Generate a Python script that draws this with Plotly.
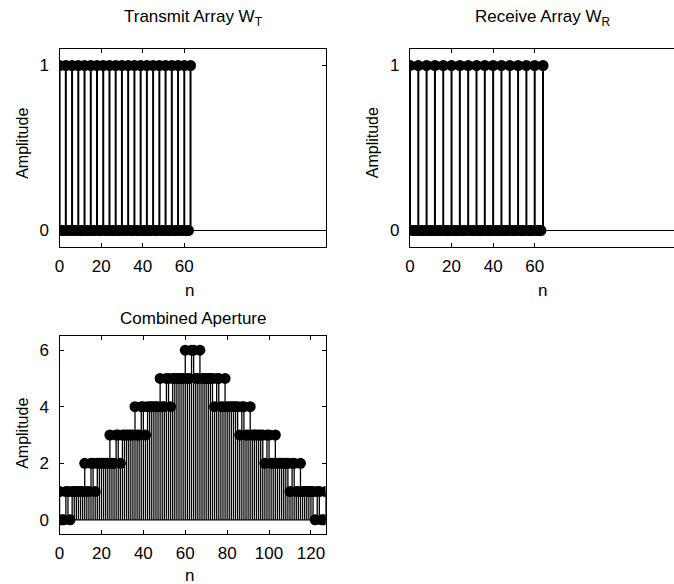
import plotly.graph_objects as go

# Element indices and weights of the two sparse arrays
n_tx = list(range(64))
w_tx = [
    1, 0, 0, 1, 0, 0, 1, 0, 0, 1, 0, 0,
    1, 0, 0, 1, 0, 0, 1, 0, 0, 1, 0, 0,
    1, 0, 0, 1, 0, 0, 1, 0, 0, 1, 0, 0,
    1, 0, 0, 1, 0, 0, 1, 0, 0, 1, 0, 0,
    1, 0, 0, 1, 0, 0, 1, 0, 0, 1, 0, 0,
    1, 0, 0, 1,
]

n_rx = list(range(65))
w_rx = [
    1, 0, 0, 0, 1, 0, 0, 0, 1, 0, 0, 0,
    1, 0, 0, 0, 1, 0, 0, 0, 1, 0, 0, 0,
    1, 0, 0, 0, 1, 0, 0, 0, 1, 0, 0, 0,
    1, 0, 0, 0, 1, 0, 0, 0, 1, 0, 0, 0,
    1, 0, 0, 0, 1, 0, 0, 0, 1, 0, 0, 0,
    1, 0, 0, 0, 1,
]

# Combined (effective) aperture
n_comb = list(range(128))
w_comb = [
    1, 0, 0, 1, 1, 0, 1, 1, 1, 1, 1, 1,
    2, 1, 1, 2, 2, 1, 2, 2, 2, 2, 2, 2,
    3, 2, 2, 3, 3, 2, 3, 3, 3, 3, 3, 3,
    4, 3, 3, 4, 4, 3, 4, 4, 4, 4, 4, 4,
    5, 4, 4, 5, 5, 4, 5, 5, 5, 5, 5, 5,
    6, 5, 5, 6, 6, 5, 5, 6, 5, 5, 5, 5,
    5, 5, 4, 5, 5, 4, 4, 5, 4, 4, 4, 4,
    4, 4, 3, 4, 4, 3, 3, 4, 3, 3, 3, 3,
    3, 3, 2, 3, 3, 2, 2, 3, 2, 2, 2, 2,
    2, 2, 1, 2, 2, 1, 1, 2, 1, 1, 1, 1,
    1, 1, 0, 1, 1, 0, 0, 1,
]

x_ticks_top = [0, 20, 40, 60]
x_ticks_bottom = [0, 20, 40, 60, 80, 100, 120]
y_ticks_top = [0, 1]
y_ticks_bottom = [0, 2, 4, 6]

W, H = 674, 584
FONT = "Liberation Sans"


def px(x):
    return x / W


def py(y):
    return 1 - y / H


def stem(x, y, xa, ya, xmax, lw):
    baseline = go.Scatter(
        x=[0, xmax], y=[0, 0], mode="lines", xaxis=xa, yaxis=ya,
        line=dict(color="black", width=1.2), hoverinfo="skip",
    )
    stems = go.Scatter(
        x=x, y=y, mode="markers", xaxis=xa, yaxis=ya,
        marker=dict(color="black", size=11),
        error_y=dict(type="data", symmetric=False, array=[0] * len(y),
                     arrayminus=y, width=0, thickness=lw, color="black"),
    )
    return [baseline, stems]


fig = go.Figure()
for tr in stem(n_tx, w_tx, "x", "y", 128, 2.0):
    fig.add_trace(tr)
for tr in stem(n_rx, w_rx, "x2", "y2", 128, 2.0):
    fig.add_trace(tr)
for tr in stem(n_comb, w_comb, "x3", "y3", 127, 1.3):
    fig.add_trace(tr)

axis_common = dict(
    showline=True, linecolor="black", linewidth=1.2, ticks="inside",
    ticklen=4, tickcolor="black", showgrid=False, zeroline=False,
    tickfont=dict(family=FONT, size=17, color="black"),
)

fig.update_layout(
    width=W, height=H, margin=dict(l=0, r=0, t=0, b=0),
    paper_bgcolor="white", plot_bgcolor="white", showlegend=False,
    xaxis=dict(domain=[px(55), px(323)], range=[0, 128], tickvals=x_ticks_top,
               anchor="y", mirror="ticks", ticklabelstandoff=3, **axis_common),
    yaxis=dict(domain=[py(247), py(49)], range=[-0.1, 1.1], tickvals=y_ticks_top,
               anchor="x", mirror="ticks", ticklabelstandoff=6, **axis_common),
    xaxis2=dict(domain=[px(408), 1.0], range=[0, 127.0], tickvals=x_ticks_top,
                anchor="y2", mirror="ticks", ticklabelstandoff=3, **axis_common),
    yaxis2=dict(domain=[py(247), py(49)], range=[-0.1, 1.1], tickvals=y_ticks_top,
                anchor="x2", mirror=False, ticklabelstandoff=6, **axis_common),
    xaxis3=dict(domain=[px(55), px(323)], range=[0, 127], tickvals=x_ticks_bottom,
                anchor="y3", mirror="ticks", ticklabelstandoff=3, **axis_common),
    yaxis3=dict(domain=[py(534), py(336)], range=[-0.5, 6.5], tickvals=y_ticks_bottom,
                anchor="x3", mirror="ticks", ticklabelstandoff=6, **axis_common),
)


def text(x, y, s, angle=0, size=17):
    fig.add_annotation(x=px(x), y=py(y), xref="paper", yref="paper", text=s,
                       showarrow=False, textangle=angle,
                       font=dict(family=FONT, size=size, color="black"),
                       xanchor="center", yanchor="middle")


text(189, 18, "Transmit Array W<sub>T</sub>")
text(542, 18, "Receive Array W<sub>R</sub>")
text(189, 318, "Combined Aperture")
text(186, 290, "n")
text(542, 290, "n")
text(186, 575, "n")
text(17, 143, "Amplitude", -90, 16)
text(370, 143, "Amplitude", -90, 16)
text(17, 433, "Amplitude", -90, 16)

fig.write_html("out.html")
